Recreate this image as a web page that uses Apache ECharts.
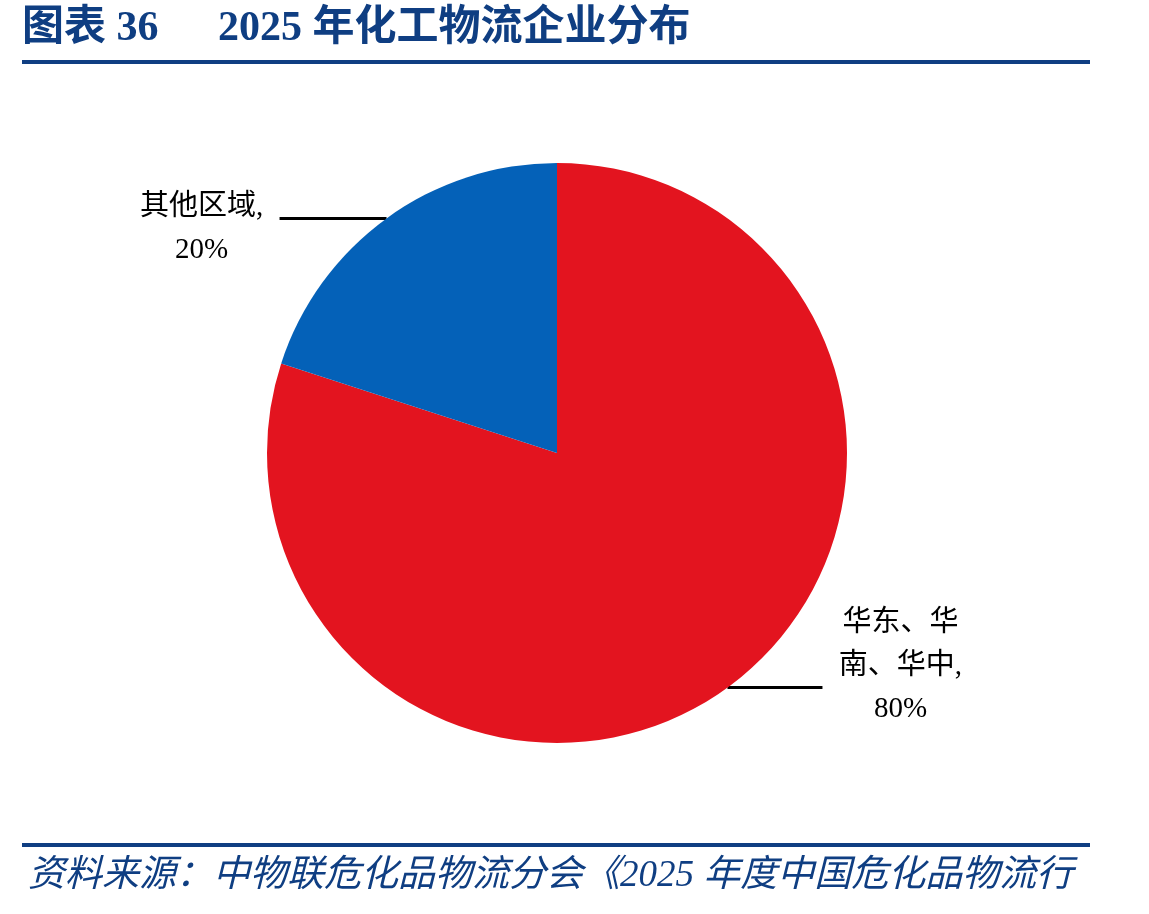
<!DOCTYPE html>
<html>
<head>
<meta charset="utf-8">
<script src="https://cdn.jsdelivr.net/npm/echarts@6/dist/echarts.min.js"></script>
<style>
  html, body { margin: 0; padding: 0; background: #fff; }
  #chart { width: 1149px; height: 914px; }
</style>
</head>
<body>
<div id="chart"></div>
<script>
var categories = ['华东、华南、华中', '其他区域'];
var shares = [80, 20];
var colors = ['#e3141f', '#0461b8'];
var labelLines = [['华东、华', '南、华中,', '80%'], ['其他区域,', '20%']];

var navy = '#0f3e82';
var serif = "'Liberation Serif', 'Times New Roman', 'Noto Sans CJK SC', serif";

// per-slice label tweaks (line length / vertical offset of the text block)
var lineLen2 = [95, 107];
var labelPad = [[0, 0, 42, 0], [22, 0, 0, 0]];

var pieData = [];
for (var i = 0; i < categories.length; i++) {
  pieData.push({
    name: categories[i],
    value: shares[i],
    itemStyle: { color: colors[i] },
    label: { padding: labelPad[i] },
    labelLine: { length2: lineLen2[i] }
  });
}

var chart = echarts.init(document.getElementById('chart'));
var option = {
  animation: false,
  backgroundColor: '#fff',
  graphic: [
    {
      type: 'text', left: 22, top: 8,
      style: { text: '图表 36', font: 'bold 42px ' + serif, fill: navy }
    },
    {
      type: 'text', left: 218, top: 8,
      style: { text: '2025 年化工物流企业分布', font: 'bold 42px ' + serif, fill: navy }
    },
    {
      type: 'rect', shape: { x: 22, y: 60, width: 1068, height: 4 },
      style: { fill: navy }
    },
    {
      type: 'rect', shape: { x: 22, y: 843, width: 1068, height: 4 },
      style: { fill: navy }
    },
    {
      type: 'text', left: 28, top: 858,
      style: {
        text: '资料来源：中物联危化品物流分会《2025 年度中国危化品物流行',
        font: 'italic 37px ' + serif,
        fill: navy
      }
    }
  ],
  series: [
    {
      type: 'pie',
      center: [557, 453],
      radius: 290,
      startAngle: 90,
      clockwise: true,
      data: pieData,
      label: {
        show: true,
        position: 'outside',
        formatter: function (p) {
          return labelLines[p.dataIndex].map(function (s) { return '{a|' + s + '}'; }).join('\n');
        },
        rich: {
          a: {
            width: 146,
            align: 'center',
            fontSize: 29,
            lineHeight: 43,
            fontFamily: serif,
            color: '#000'
          }
        }
      },
      labelLine: {
        show: true,
        length: 0,
        length2: 100,
        lineStyle: { color: '#000', width: 3 }
      }
    }
  ]
};
chart.setOption(option);
</script>
</body>
</html>
